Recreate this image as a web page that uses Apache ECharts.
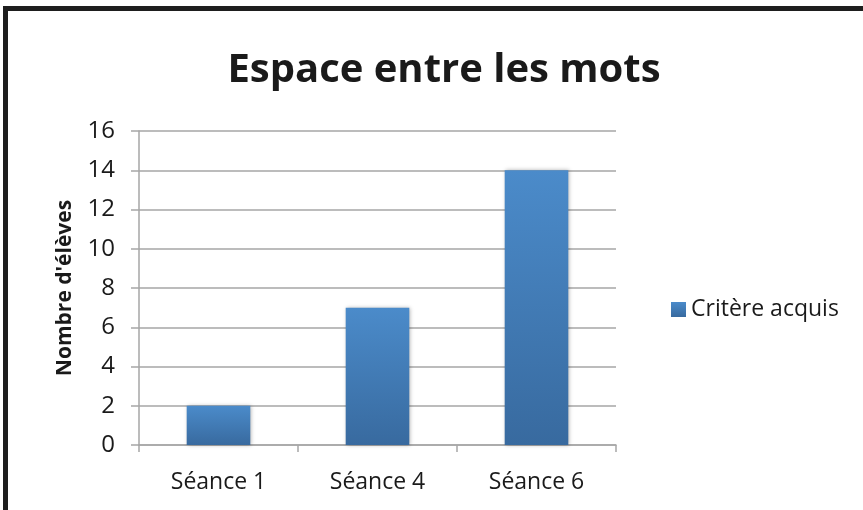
<!DOCTYPE html>
<html>
<head>
<meta charset="utf-8">
<script src="https://cdn.jsdelivr.net/npm/echarts@6/dist/echarts.min.js"></script>
<style>
    html, body { margin: 0; padding: 0; background: #fff; }
    #chart { width: 863px; height: 510px; }
</style>
</head>
<body>
<div id="chart"></div>
<script>
// chart data
const categories = ['Séance 1', 'Séance 4', 'Séance 6'];
const acquis = [2, 7, 14];
const seriesName = 'Critère acquis';

const font = '"Open Sans", "Noto Sans", sans-serif';

const chart = echarts.init(document.getElementById('chart'));

chart.setOption({
    backgroundColor: '#fff',
    animation: false,
    textStyle: { fontFamily: font },
    title: {
        text: 'Espace entre les mots',
        left: 439,
        textAlign: 'center',
        top: 46,
        textStyle: {
            fontFamily: font,
            fontSize: 40,
            fontWeight: 'bold',
            color: '#1a1a1a'
        }
    },
    graphic: [{
        type: 'rect',
        shape: { x: 5.5, y: 8.5, width: 900, height: 600 },
        style: { fill: 'none', stroke: '#1e1e1e', lineWidth: 5 },
        silent: true
    }],
    legend: {
        data: [seriesName],
        left: 666,
        top: 293,
        orient: 'vertical',
        icon: 'rect',
        itemWidth: 15,
        itemHeight: 15,
        itemGap: 6,
        textStyle: { fontFamily: font, fontSize: 23, color: '#1a1a1a' }
    },
    grid: {
        left: 139,
        right: 247,
        top: 131,
        bottom: 65
    },
    xAxis: {
        type: 'category',
        data: categories,
        axisLine: { lineStyle: { color: '#a6a6a6', width: 1.5 } },
        axisTick: { show: true, length: 7, lineStyle: { color: '#a6a6a6', width: 1.5 } },
        axisLabel: { margin: 26, fontSize: 23, color: '#1a1a1a', fontFamily: font }
    },
    yAxis: {
        type: 'value',
        min: 0,
        max: 16,
        interval: 2,
        name: "Nombre d'élèves",
        nameLocation: 'middle',
        nameGap: 63,
        nameTextStyle: { fontFamily: font, fontSize: 21, fontWeight: 'bold', color: '#1a1a1a' },
        axisLine: { show: true, lineStyle: { color: '#a6a6a6', width: 1.5 } },
        axisTick: { show: true, length: 8, lineStyle: { color: '#a6a6a6', width: 1.5 } },
        axisLabel: { margin: 24, fontSize: 24, color: '#1a1a1a', fontFamily: font },
        splitLine: { lineStyle: { color: '#a6a6a6', width: 1.5 } }
    },
    series: [{
        name: seriesName,
        type: 'bar',
        data: acquis,
        barWidth: '40%',
        itemStyle: {
            color: new echarts.graphic.LinearGradient(0, 0, 0, 1, [
                { offset: 0, color: '#4b8bca' },
                { offset: 1, color: '#386a9f' }
            ]),
            shadowBlur: 4,
            shadowColor: 'rgba(0,0,0,0.3)',
            shadowOffsetX: 1,
            shadowOffsetY: 0
        }
    }]
});
</script>
</body>
</html>
